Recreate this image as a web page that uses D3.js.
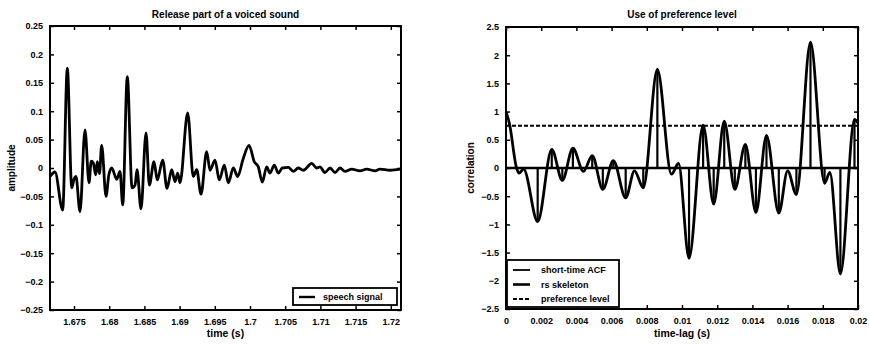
<!DOCTYPE html>
<html>
<head>
<meta charset="utf-8">
<script src="https://cdn.jsdelivr.net/npm/d3@7"></script>
<style>
  body { margin: 0; background: #fff; }
  svg { font-family: "Liberation Sans", Arial, sans-serif; font-weight: bold; }
  .tick text { font-size: 9px; font-weight: bold; }
</style>
</head>
<body>
<div id="chart"></div>
<script>
// left panel: speech signal (time in s, amplitude)
const speechTime = [1.67159, 1.6723, 1.67339, 1.67405, 1.67468, 1.675, 1.67528, 1.67585, 1.67656, 1.67713,
  1.67745, 1.67774, 1.67808, 1.67831, 1.67862, 1.67893, 1.67955, 1.67995, 1.68036, 1.68107, 1.68153,
  1.68192, 1.68257, 1.68325, 1.68367, 1.68395, 1.68452, 1.68523, 1.6857, 1.68636, 1.68683, 1.6876,
  1.68821, 1.68888, 1.68935, 1.68973, 1.69006, 1.69115, 1.69194, 1.69243, 1.69304, 1.69385, 1.69432,
  1.69503, 1.69564, 1.69635, 1.69692, 1.69763, 1.69825, 1.699, 1.69986, 1.70061, 1.70118, 1.70175,
  1.70237, 1.70284, 1.70345, 1.70402, 1.70459, 1.70544, 1.70615, 1.70686, 1.70757, 1.70877, 1.70948,
  1.70994, 1.71065, 1.71137, 1.71208, 1.71279, 1.7135, 1.71445, 1.71563, 1.71658, 1.71776, 1.71847,
  1.71989, 1.72131];
const speechAmp = [-0.015, -0.007, -0.074, 0.176, -0.035, -0.02, -0.015, -0.077, 0.067, -0.026,
  0.012, 0.009, -0.012, 0.011, -0.01, 0.04, -0.05, -0.012, 0.0, -0.02, -0.006,
  -0.065, 0.161, -0.035, -0.03, -0.003, -0.072, 0.062, -0.03, 0.011, -0.021, 0.014,
  -0.036, -0.003, -0.024, -0.009, -0.026, 0.097, -0.015, -0.003, -0.046, 0.029, -0.004,
  0.014, -0.021, 0.005, -0.026, 0.0, -0.015, 0.015, 0.04, 0.011, 0.002, -0.025,
  0.002, -0.009, 0.005, -0.009, 0.0, 0.001, -0.006, 0.0, -0.004, 0.008, 0.0,
  0.002, -0.008, 0.0, -0.008, 0.0, -0.006, -0.002, -0.005, -0.002, -0.005, -0.002,
  -0.004, -0.002];
const leftYTicks = [0.25, 0.2, 0.15, 0.1, 0.05, 0, -0.05, -0.1, -0.15, -0.2, -0.25];
const leftXTicks = [1.675, 1.68, 1.685, 1.69, 1.695, 1.7, 1.705, 1.71, 1.715, 1.72];

// right panel: short-time ACF (lag in s, correlation)
const acfLag = [0, 0.0002, 0.0006, 0.00074, 0.001, 0.0018, 0.0026, 0.0032, 0.0038, 0.0044, 0.0049,
  0.0055, 0.0061, 0.0068, 0.0073, 0.0078, 0.0086, 0.0094, 0.0098, 0.0104, 0.0112, 0.0118, 0.0124,
  0.013, 0.0136, 0.0142, 0.0148, 0.0155, 0.016, 0.0165, 0.0173, 0.0181, 0.0184, 0.019, 0.0198, 0.02];
const acfVal = [1.0, 0.78, 0.0, -0.09, -0.02, -0.95, 0.33, -0.22, 0.35, -0.06, 0.22,
  -0.38, 0.13, -0.53, -0.05, -0.35, 1.75, -0.11, 0.08, -1.6, 0.76, -0.64, 0.83,
  -0.38, 0.42, -0.79, 0.58, -0.8, -0.05, -0.47, 2.23, -0.27, -0.08, -1.88, 0.86, 0.8];
// rs skeleton: stems at the extrema
const skelLag = [0.0018, 0.0026, 0.0032, 0.0038, 0.0049, 0.0055, 0.0061, 0.0068, 0.0078, 0.0086,
  0.0104, 0.0112, 0.0118, 0.0124, 0.013, 0.0136, 0.0142, 0.0148, 0.0155, 0.0165, 0.0173, 0.0181,
  0.019, 0.0198];
const skelVal = [-0.95, 0.33, -0.22, 0.35, 0.22, -0.38, 0.13, -0.53, -0.35, 1.75,
  -1.6, 0.76, -0.64, 0.83, -0.38, 0.42, -0.79, 0.58, -0.8, -0.47, 2.23, -0.27,
  -1.88, 0.86];
const prefLevel = 0.75;
const rightYTicks = [2.5, 2, 1.5, 1, 0.5, 0, -0.5, -1, -1.5, -2, -2.5];
const rightXTicks = [0, 0.002, 0.004, 0.006, 0.008, 0.01, 0.012, 0.014, 0.016, 0.018, 0.02];

const W = 869, H = 344;
const svg = d3.select('#chart').append('svg').attr('width', W).attr('height', H);

function panel(o) {
  const g = svg.append('g');
  const x = d3.scaleLinear().domain(o.xDomain).range([o.left, o.right]);
  const y = d3.scaleLinear().domain(o.yDomain).range([o.bottom, o.top]);

  const fmt = d3.format('~g');
  // inward ticks on all four sides, MATLAB style
  g.append('g').attr('transform', `translate(0,${o.bottom})`)
    .call(d3.axisBottom(x).tickValues(o.xTicks).tickSize(-4).tickPadding(9).tickFormat(fmt));
  g.append('g').attr('transform', `translate(0,${o.top})`)
    .call(d3.axisTop(x).tickValues(o.xTicks).tickSize(-4).tickFormat(''));
  g.append('g').attr('transform', `translate(${o.left},0)`)
    .call(d3.axisLeft(y).tickValues(o.yTicks).tickSize(-4).tickPadding(7).tickFormat(fmt));
  g.append('g').attr('transform', `translate(${o.right},0)`)
    .call(d3.axisRight(y).tickValues(o.yTicks).tickSize(-4).tickFormat(''));
  g.selectAll('.domain').remove();
  g.selectAll('.tick line').attr('stroke', '#000').attr('stroke-width', 1.5);

  g.append('rect').attr('x', o.left).attr('y', o.top)
    .attr('width', o.right - o.left).attr('height', o.bottom - o.top)
    .attr('fill', 'none').attr('stroke', '#000').attr('stroke-width', 2);

  g.append('text').attr('x', (o.left + o.right) / 2).attr('y', 18)
    .attr('text-anchor', 'middle').attr('font-size', 10).text(o.title);
  g.append('text').attr('x', (o.left + o.right) / 2).attr('y', 337)
    .attr('text-anchor', 'middle').attr('font-size', 10.5).text(o.xLabel);
  g.append('text').attr('transform', `translate(${o.left - o.yLabelGap},${(o.top + o.bottom) / 2}) rotate(-90)`)
    .attr('text-anchor', 'middle').attr('font-size', 10).text(o.yLabel);
  return { g, x, y };
}

// ---- left panel
const L = panel({
  left: 50, right: 401, top: 26, bottom: 310,
  xDomain: [1.67159, 1.72145], yDomain: [-0.25, 0.25],
  xTicks: leftXTicks, yTicks: leftYTicks, yLabelGap: 35,
  title: 'Release part of a voiced sound', xLabel: 'time (s)', yLabel: 'amplitude'
});
L.g.append('path')
  .datum(speechTime.map((t, i) => [t, speechAmp[i]]))
  .attr('fill', 'none').attr('stroke', '#000').attr('stroke-width', 2.8)
  .attr('stroke-linejoin', 'round')
  .attr('d', d3.line().x(d => L.x(d[0])).y(d => L.y(d[1])).curve(d3.curveMonotoneX));

const lg1 = L.g.append('g').attr('transform', 'translate(293,288)');
lg1.append('rect').attr('width', 104).attr('height', 17).attr('fill', '#fff')
  .attr('stroke', '#000').attr('stroke-width', 1.8);
lg1.append('line').attr('x1', 6).attr('x2', 22).attr('y1', 9).attr('y2', 9)
  .attr('stroke', '#000').attr('stroke-width', 2.4);
lg1.append('text').attr('x', 30).attr('y', 12).attr('font-size', 9).text('speech signal');

// ---- right panel
const R = panel({
  left: 506, right: 858, top: 27, bottom: 309,
  xDomain: [0, 0.02], yDomain: [-2.5, 2.5],
  xTicks: rightXTicks, yTicks: rightYTicks, yLabelGap: 32,
  title: 'Use of preference level', xLabel: 'time-lag (s)', yLabel: 'correlation'
});
// skeleton baseline and stems
R.g.append('line').attr('x1', R.x(0)).attr('x2', R.x(0.02)).attr('y1', R.y(0)).attr('y2', R.y(0))
  .attr('stroke', '#000').attr('stroke-width', 2.4);
R.g.selectAll('.stem').data(skelLag).enter().append('line')
  .attr('x1', d => R.x(d)).attr('x2', d => R.x(d))
  .attr('y1', R.y(0)).attr('y2', (d, i) => R.y(skelVal[i]))
  .attr('stroke', '#000').attr('stroke-width', 2.2);
R.g.append('path')
  .datum(acfLag.map((t, i) => [t, acfVal[i]]))
  .attr('fill', 'none').attr('stroke', '#000').attr('stroke-width', 2.8)
  .attr('stroke-linejoin', 'round')
  .attr('d', d3.line().x(d => R.x(d[0])).y(d => R.y(d[1])).curve(d3.curveMonotoneX));
R.g.append('line').attr('x1', R.x(0)).attr('x2', R.x(0.02))
  .attr('y1', R.y(prefLevel)).attr('y2', R.y(prefLevel))
  .attr('stroke', '#000').attr('stroke-width', 2).attr('stroke-dasharray', '4,2');

const lg2 = R.g.append('g').attr('transform', 'translate(507,260)');
lg2.append('rect').attr('width', 112).attr('height', 47).attr('fill', '#fff')
  .attr('stroke', '#000').attr('stroke-width', 1.8);
const entries = [['short-time ACF', null, 1.8], ['rs skeleton', null, 2.6], ['preference level', '4,2', 2]];
entries.forEach((e, i) => {
  const yy = 10 + i * 14.5;
  lg2.append('line').attr('x1', 6).attr('x2', 23).attr('y1', yy).attr('y2', yy)
    .attr('stroke', '#000').attr('stroke-width', e[2]).attr('stroke-dasharray', e[1]);
  lg2.append('text').attr('x', 34).attr('y', yy + 3).attr('font-size', 9).text(e[0]);
});
</script>
</body>
</html>
